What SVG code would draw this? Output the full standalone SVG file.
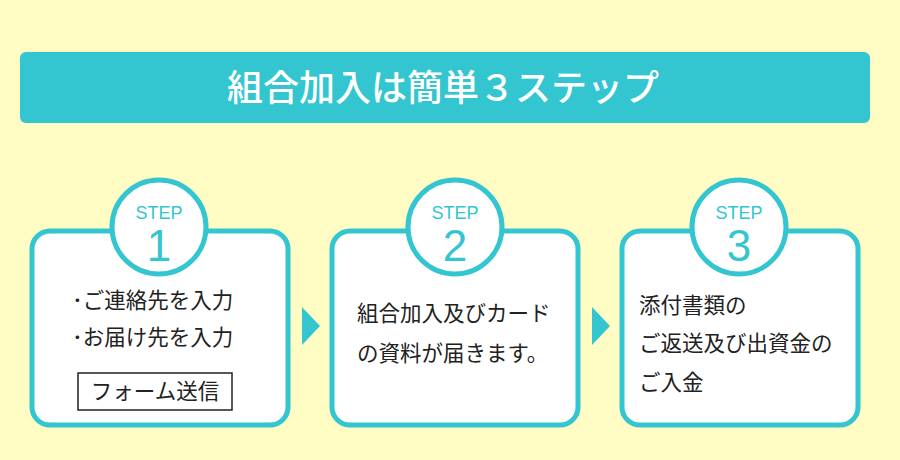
<svg xmlns="http://www.w3.org/2000/svg" width="900" height="460" viewBox="0 0 900 460">
<style>
.box{fill:#fff;stroke:#33c5d0;stroke-width:5}
.circ{fill:#fff;stroke:#33c5d0;stroke-width:5}
.step{font-family:"Liberation Sans",Arial,sans-serif;fill:#33c5d0;text-anchor:middle}
.t{font-family:"Noto Sans CJK JP","Liberation Sans",sans-serif;font-size:21.5px;font-weight:400;fill:#222}
.arr{fill:#33c5d0}
</style>
<rect width="900" height="460" fill="#fffcc4"/>
<g id="header">
<rect x="20" y="52" width="850" height="71" rx="6" fill="#33c5d0"/>
<text x="443" y="101" text-anchor="middle" font-family="Noto Sans CJK JP,sans-serif" font-size="36" font-weight="500" fill="#fff">組合加入は簡単３ステップ</text>
</g>
<g id="connectors">
<polygon class="arr" points="302,307 320,326 302,345"/>
<polygon class="arr" points="592,307 610,326 592,345"/>
</g>
<g id="step1">
<rect class="box" x="32" y="231" width="256" height="194" rx="18"/>
<circle class="circ" cx="159" cy="227" r="47"/>
<text class="step" x="159" y="219" font-size="18">STEP</text>
<text class="step" x="159" y="261" font-size="44">1</text>
<text class="t" x="72" y="308">･ご連絡先を入力</text>
<text class="t" x="72" y="345">･お届け先を入力</text>
<rect x="78" y="373" width="154" height="37" fill="#fff" stroke="#222" stroke-width="1.5"/>
<text class="t" x="155" y="399" text-anchor="middle">フォーム送信</text>
</g>
<g id="step2">
<rect class="box" x="332" y="231" width="246" height="194" rx="18"/>
<circle class="circ" cx="455" cy="227" r="47"/>
<text class="step" x="455" y="219" font-size="18">STEP</text>
<text class="step" x="455" y="261" font-size="44">2</text>
<text class="t" x="357" y="321">組合加入及びカード</text>
<text class="t" x="357" y="361">の資料が届きます。</text>
</g>
<g id="step3">
<rect class="box" x="622" y="231" width="236" height="194" rx="18"/>
<circle class="circ" cx="739" cy="227" r="47"/>
<text class="step" x="739" y="219" font-size="18">STEP</text>
<text class="step" x="739" y="261" font-size="44">3</text>
<text class="t" x="639" y="313">添付書類の</text>
<text class="t" x="639" y="351">ご返送及び出資金の</text>
<text class="t" x="639" y="390">ご入金</text>
</g>
</svg>
